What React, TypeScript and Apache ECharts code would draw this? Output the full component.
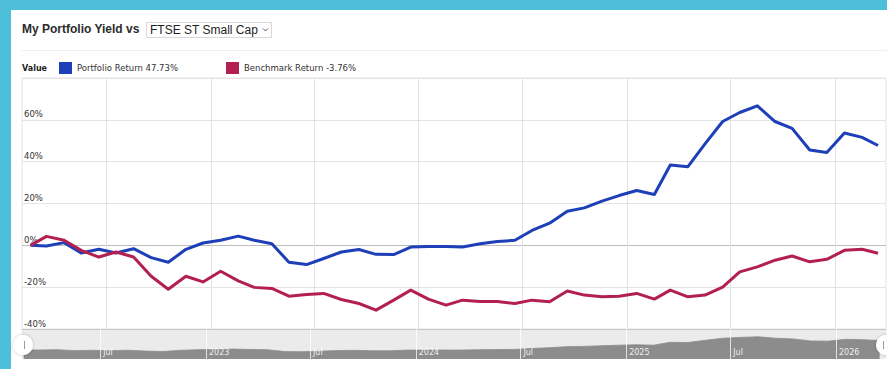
import React, { useEffect, useRef } from 'react';
import * as echarts from 'echarts';

const dates = [
  '2022-02-18', '2022-03-18', '2022-04-18', '2022-05-18', '2022-06-18', '2022-07-18', '2022-08-18', '2022-09-18', '2022-10-18', '2022-11-18', '2022-12-18',
  '2023-01-18', '2023-02-18', '2023-03-18', '2023-04-18', '2023-05-18', '2023-06-18', '2023-07-18', '2023-08-18', '2023-09-18', '2023-10-18', '2023-11-18', '2023-12-18',
  '2024-01-18', '2024-02-18', '2024-03-18', '2024-04-18', '2024-05-18', '2024-06-18', '2024-07-18', '2024-08-18', '2024-09-18', '2024-10-18', '2024-11-18', '2024-12-18',
  '2025-01-18', '2025-02-18', '2025-03-18', '2025-04-18', '2025-05-18', '2025-06-18', '2025-07-18', '2025-08-18', '2025-09-18', '2025-10-18', '2025-11-18', '2025-12-18',
  '2026-01-18', '2026-02-18', '2026-03-18',
];

const portfolio = [
  0, -0.3, 1.3, -3.7, -1.9, -3.7, -1.6, -5.9, -8.1, -1.9, 1.1,
  2.4, 4.4, 2.4, 0.8, -8.1, -9.2, -6.3, -3.2, -2.0, -4.3, -4.4, -0.8,
  -0.5, -0.6, -0.8, 0.8, 1.8, 2.4, 7.1, 10.6, 16.3, 17.9, 21.1, 23.8,
  26.2, 24.3, 38.4, 37.6, 48.5, 59.2, 63.5, 66.7, 59.2, 55.9, 45.6, 44.4,
  53.7, 51.6, 47.73,
];

const benchmark = [
  0, 4.3, 2.4, -2.4, -5.6, -3.2, -5.6, -14.8, -21, -14.8, -17.5,
  -12.4, -17, -20.1, -20.6, -24.3, -23.5, -23, -25.9, -27.8, -31, -26.2, -21.4,
  -25.7, -28.6, -26.2, -26.8, -26.8, -27.8, -26.2, -27, -21.8, -23.8, -24.6, -24.3,
  -23, -25.7, -21.4, -24.6, -23.8, -20, -12.7, -10.3, -7.1, -5.1, -7.9, -6.7,
  -2.4, -1.9, -3.76,
];

const tickDates = ['2022-07-01', '2023-01-01', '2023-07-01', '2024-01-01', '2024-07-01', '2025-01-01', '2025-07-01', '2026-01-01'];
const tickLabels = ['Jul', '2023', 'Jul', '2024', 'Jul', '2025', 'Jul', '2026'];

const mainRange = ['2022-02-03', '2026-04-01'];
const overviewRange = ['2022-02-15', '2026-03-29'];

const seriesNames = ['Portfolio Return', 'Benchmark Return'];
const seriesColors = ['#1d3fb8', '#b3204f'];

const ts = (d: string) => new Date(d + 'T00:00:00Z').getTime();

export default function App() {
  const ref = useRef<HTMLDivElement>(null);

  useEffect(() => {
    if (!ref.current) return;
    const chart = echarts.init(ref.current, null, { renderer: 'svg' });
    const font = "'DejaVu Sans', Verdana, sans-serif";
    const titleFont = "'Liberation Sans', Arial, Helvetica, sans-serif";
    const pData = dates.map((d, i) => [ts(d), portfolio[i]]);
    const bData = dates.map((d, i) => [ts(d), benchmark[i]]);
    const tickTimes = tickDates.map(ts);
    const tickLabelFor = (v: number) => {
      let best = -1;
      let bestDiff = Infinity;
      tickTimes.forEach((t, i) => {
        const diff = Math.abs(t - v);
        if (diff < bestDiff) { bestDiff = diff; best = i; }
      });
      return best >= 0 && bestDiff < 5 * 86400000 ? tickLabels[best] : '';
    };
    const lastP = portfolio[portfolio.length - 1];
    const lastB = benchmark[benchmark.length - 1];

    chart.setOption({
      animation: false,
      legend: {
        left: 59,
        top: 62,
        padding: 0,
        itemWidth: 13,
        itemHeight: 12,
        itemGap: 48,
        icon: 'rect',
        selectedMode: false,
        data: seriesNames,
        formatter: (name: string) =>
          name === seriesNames[0] ? `${name} ${lastP.toFixed(2)}%` : `${name} ${lastB.toFixed(2)}%`,
        textStyle: { fontSize: 8.5, fontFamily: font, color: '#333' },
      },
      grid: [
        { left: 22, right: 1, top: 78, height: 251, show: true, borderColor: '#e4e4e4', borderWidth: 1, backgroundColor: 'transparent' },
        { left: 22, right: 1, top: 329, height: 30, show: true, borderWidth: 0, backgroundColor: '#ebebeb' },
      ],
      xAxis: [
        {
          type: 'value',
          gridIndex: 0,
          min: ts(mainRange[0]),
          max: ts(mainRange[1]),
          axisLine: { show: true, onZero: false, lineStyle: { color: '#c6c6c6', width: 1 } },
          axisTick: { show: false, customValues: tickTimes },
          axisLabel: { show: false, customValues: tickTimes },
          splitLine: { show: true, lineStyle: { color: '#e2e2e2', width: 1 } },
        },
        {
          type: 'value',
          gridIndex: 1,
          min: ts(overviewRange[0]),
          max: ts(overviewRange[1]),
          z: 5,
          axisLine: { show: false, onZero: false },
          axisTick: { show: false, customValues: tickTimes },
          axisLabel: {
            show: true,
            inside: true,
            customValues: tickTimes,
            formatter: (v: number) => tickLabelFor(v),
            align: 'left',
            margin: 3,
            padding: [0, 0, 0, 3],
            color: 'rgba(255,255,255,0.88)',
            fontSize: 8,
            fontFamily: font,
          },
          splitLine: { show: true, lineStyle: { color: 'rgba(255,255,255,0.75)', width: 1 } },
        },
      ],
      yAxis: [
        {
          type: 'value',
          gridIndex: 0,
          min: -40,
          max: 80,
          interval: 20,
          axisLine: { show: false },
          axisTick: { show: false },
          axisLabel: {
            inside: true,
            margin: 2,
            formatter: '{value}%',
            verticalAlign: 'bottom',
            showMaxLabel: false,
            color: '#333',
            fontSize: 8.5,
            fontFamily: font,
            padding: [0, 0, 1, 0],
          },
          splitLine: {
            show: true,
            lineStyle: { color: ['#e4e4e4', '#e4e4e4', '#bdbdbd', '#e4e4e4', '#e4e4e4', '#e4e4e4', '#e4e4e4'], width: 1 },
          },
        },
        { type: 'value', gridIndex: 1, min: -46, max: 106, show: false, splitLine: { show: false } },
      ],
      series: [
        {
          name: seriesNames[0],
          type: 'line',
          xAxisIndex: 0,
          yAxisIndex: 0,
          data: pData,
          symbol: 'none',
          showSymbol: false,
          itemStyle: { color: seriesColors[0] },
          lineStyle: { color: seriesColors[0], width: 3, join: 'round' },
          z: 3,
        },
        {
          name: seriesNames[1],
          type: 'line',
          xAxisIndex: 0,
          yAxisIndex: 0,
          data: bData,
          symbol: 'none',
          showSymbol: false,
          itemStyle: { color: seriesColors[1] },
          lineStyle: { color: seriesColors[1], width: 3, join: 'round' },
          z: 4,
        },
        {
          name: 'Overview',
          type: 'line',
          xAxisIndex: 1,
          yAxisIndex: 1,
          data: pData,
          symbol: 'none',
          silent: true,
          lineStyle: { color: '#8c8c8c', width: 0.8 },
          areaStyle: { color: '#8c8c8c', opacity: 1, origin: 'start' },
          z: 2,
        },
      ],
      graphic: [
        { type: 'line', silent: true, shape: { x1: 22, y1: 50.5, x2: 887, y2: 50.5 }, style: { stroke: '#efefef', lineWidth: 1 } },
        {
          type: 'text', x: 22, y: 29,
          style: { text: 'My Portfolio Yield vs', fontSize: 12, fontWeight: 'bold', fontFamily: titleFont, fill: '#2b2b2b', verticalAlign: 'middle', align: 'left' },
        },
        { type: 'rect', shape: { x: 146.5, y: 22.5, width: 125, height: 15 }, style: { fill: '#fff', stroke: '#d8d8d8', lineWidth: 1 } },
        {
          type: 'text', x: 150, y: 30,
          style: { text: 'FTSE ST Small Cap', fontSize: 12, fontFamily: titleFont, fill: '#222', verticalAlign: 'middle', align: 'left' },
        },
        { type: 'polyline', shape: { points: [[263, 28.5], [265.5, 31], [268, 28.5]] }, style: { stroke: '#555', lineWidth: 1, fill: null } },
        {
          type: 'text', x: 22, y: 68,
          style: { text: 'Value', fontSize: 8, fontWeight: 'bold', fontFamily: font, fill: '#222', verticalAlign: 'middle', align: 'left' },
        },
        { type: 'circle', z: 100, shape: { cx: 23, cy: 345, r: 10 }, style: { fill: '#fff', shadowBlur: 3, shadowColor: 'rgba(0,0,0,0.25)' } },
        { type: 'line', z: 101, shape: { x1: 24.5, y1: 341, x2: 24.5, y2: 349 }, style: { stroke: '#9a9a9a', lineWidth: 1 } },
        { type: 'circle', z: 100, shape: { cx: 886, cy: 345, r: 10 }, style: { fill: '#fff', shadowBlur: 3, shadowColor: 'rgba(0,0,0,0.25)' } },
        { type: 'line', z: 101, shape: { x1: 883.5, y1: 341, x2: 883.5, y2: 349 }, style: { stroke: '#9a9a9a', lineWidth: 1 } },
      ],
    });

    return () => chart.dispose();
  }, []);

  return (
    <div style={{ position: 'fixed', left: 0, top: 0, width: 887, height: 369, background: '#4dbfd8', overflow: 'hidden' }}>
      <div style={{ position: 'absolute', left: 11, top: 10, right: 0, bottom: 0, background: '#ffffff' }} />
      <div ref={ref} style={{ position: 'absolute', left: 0, top: 0, width: 887, height: 369 }} />
    </div>
  );
}
